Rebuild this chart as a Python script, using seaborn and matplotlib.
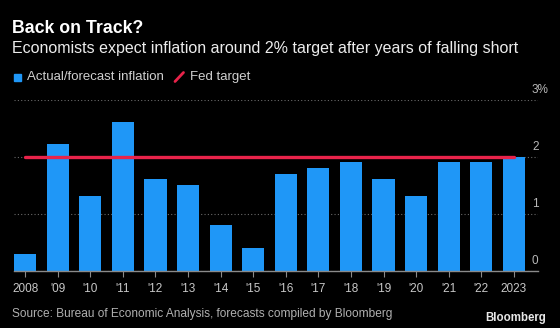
import matplotlib
matplotlib.use("Agg")
import matplotlib.pyplot as plt
import matplotlib.transforms as mtransforms
import seaborn as sns
import pandas as pd
from matplotlib.patches import Rectangle
from matplotlib.lines import Line2D

years = ["2008", "'09", "'10", "'11", "'12", "'13", "'14", "'15", "'16",
         "'17", "'18", "'19", "'20", "'21", "'22", "2023"]
inflation = [0.30, 2.22, 1.31, 2.61, 1.61, 1.51, 0.80, 0.41, 1.70,
             1.81, 1.92, 1.61, 1.31, 1.92, 1.92, 2.00]
fed_target = [2.0] * len(years)
y_ticks = [0, 1, 2, 3]
y_labels = ["0", "1", "2", "3%"]

BLUE = "#1f97f7"
RED = "#e8234a"
BG = "black"

sns.set_theme(style="dark")
plt.rcParams["font.family"] = ["Liberation Sans", "DejaVu Sans"]

df = pd.DataFrame({"year": years, "inflation": inflation,
                   "pos": range(len(years)), "target": fed_target})

fig = plt.figure(figsize=(5.6, 3.28), dpi=100, facecolor=BG)
ax = fig.add_axes([14 / 560, 1 - 271 / 328, (538 - 14) / 560, (271 - 100) / 328])
ax.set_facecolor(BG)

sns.barplot(data=df, x="year", y="inflation", color=BLUE, saturation=1,
            width=0.68, ax=ax, zorder=2, edgecolor="none", linewidth=0)
sns.lineplot(data=df, x="pos", y="target", color=RED, linewidth=2.4,
             ax=ax, zorder=3)

ax.set_xlim(-0.34, 15.74)
ax.set_ylim(0, 3)
ax.set_xlabel("")
ax.set_ylabel("")
for s in ["top", "left", "right"]:
    ax.spines[s].set_visible(False)
ax.spines["bottom"].set_color("#8a8a8a")
ax.spines["bottom"].set_linewidth(1.0)
ax.spines["bottom"].set_zorder(4)

ax.set_yticks(y_ticks)
ax.set_yticklabels([])
ax.tick_params(axis="y", length=0)
ax.yaxis.grid(True, color="#6a6a6a", linestyle=(0, (1, 2)), linewidth=0.8)
ax.xaxis.grid(False)
ax.set_axisbelow(True)
blend = mtransforms.blended_transform_factory(fig.transFigure, ax.transData)
offset = mtransforms.ScaledTranslation(0, 4 / 100, fig.dpi_scale_trans)
for v, lab in zip(y_ticks, y_labels):
    ax.text(532 / 560, v, lab, transform=blend + offset,
            ha="left", va="bottom", color="#b8b8b8", fontsize=8.5)

ax.tick_params(axis="x", colors="#8a8a8a", length=4, width=0.8, direction="out",
               labelcolor="#c8c8c8", labelsize=8.5, pad=5, bottom=True)

fig.text(12 / 560, 1 - 28.5 / 328, "Back on Track?", color="white",
         fontsize=12.8, fontweight="bold", va="center", ha="left")
fig.text(12 / 560, 1 - 48 / 328,
         "Economists expect inflation around 2% target after years of falling short",
         color="#ececec", fontsize=11.5, va="center", ha="left")

# legend
fig.patches.append(Rectangle((13.5 / 560, 1 - 81 / 328), 7.5 / 560, 7.5 / 328,
                             transform=fig.transFigure, color=BLUE))
fig.text(27 / 560, 1 - 77 / 328, "Actual/forecast inflation", color="#d0d0d0",
         fontsize=9.5, va="center", ha="left")
fig.lines.append(Line2D([175 / 560, 183.5 / 560], [1 - 81.5 / 328, 1 - 72.5 / 328],
                        transform=fig.transFigure, color=RED, linewidth=2))
fig.text(190 / 560, 1 - 77 / 328, "Fed target", color="#d0d0d0",
         fontsize=9.5, va="center", ha="left")

fig.text(12 / 560, 1 - 314.5 / 328,
         "Source: Bureau of Economic Analysis, forecasts compiled by Bloomberg",
         color="#b0b0b0", fontsize=8.6, va="center", ha="left")
fig.text(546 / 560, 1 - 318 / 328, "Bloomberg", color="#e8e8e8",
         fontsize=8.3, fontweight="bold", va="center", ha="right")

fig.savefig("out.png", dpi=100, facecolor=BG)
